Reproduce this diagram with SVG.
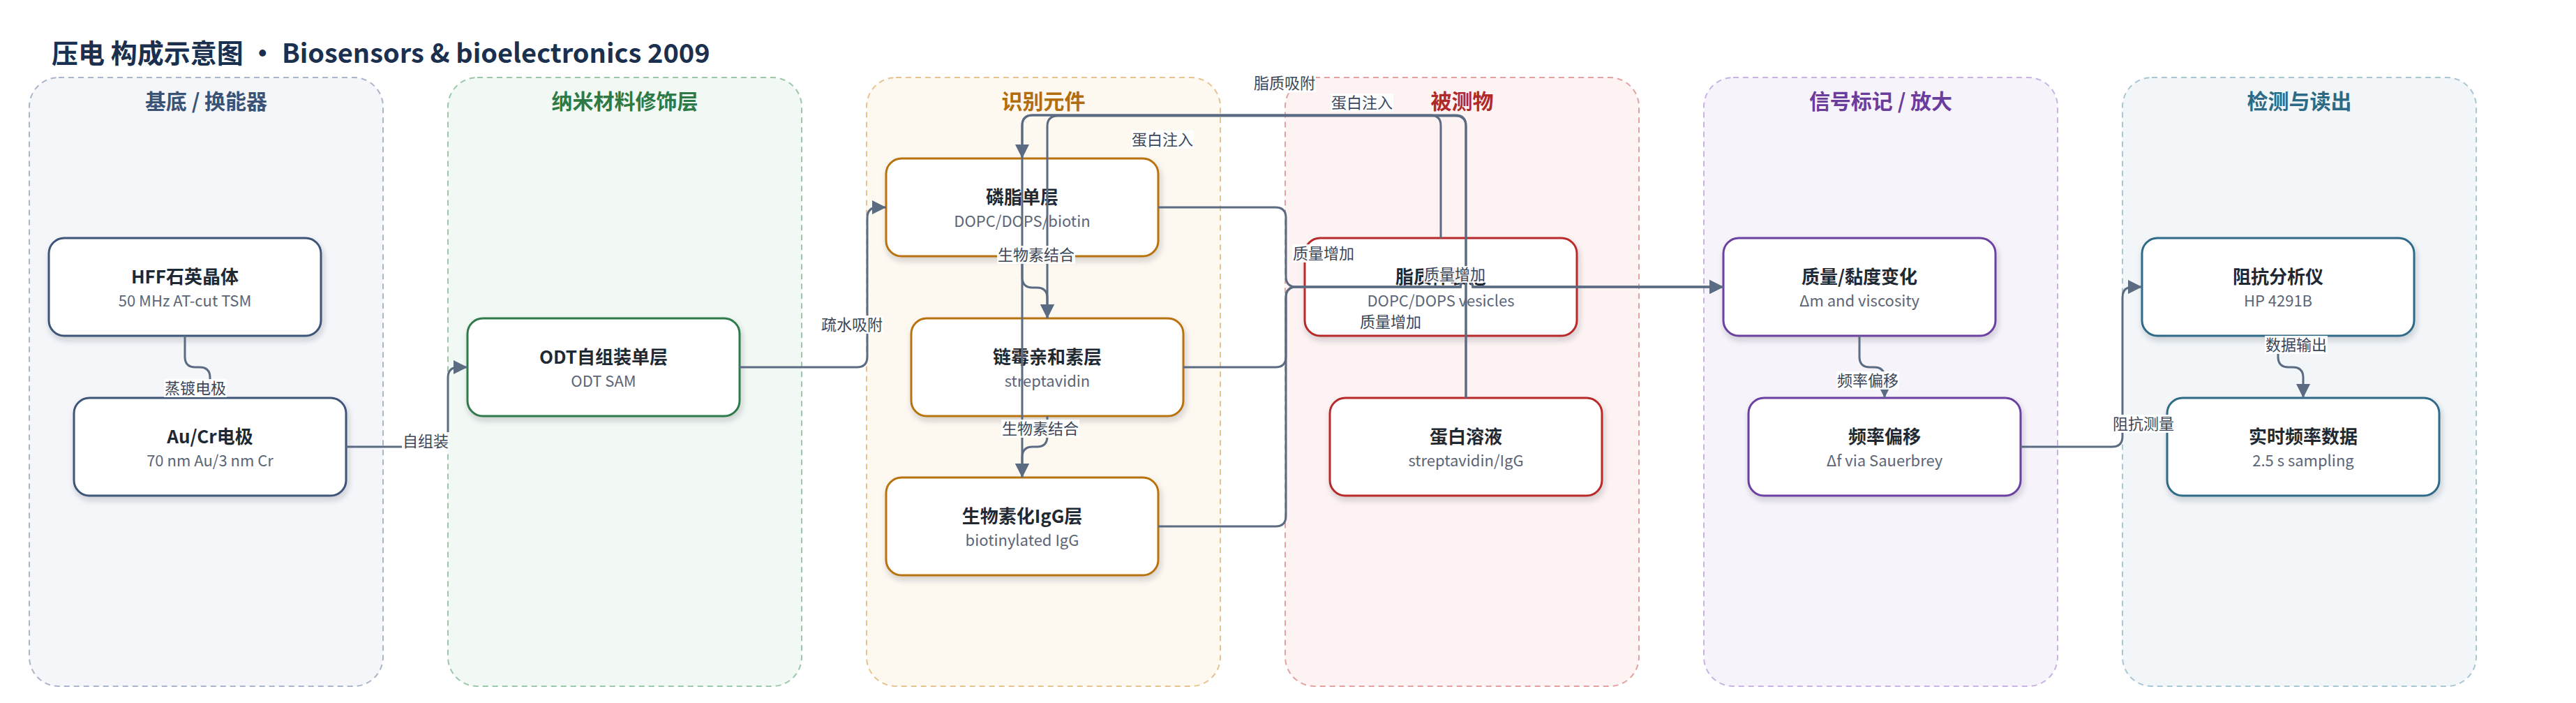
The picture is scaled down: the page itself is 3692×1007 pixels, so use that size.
<svg xmlns="http://www.w3.org/2000/svg" width="3692" height="1007" viewBox="0 0 3692 1007">
<defs>
<filter id="sh" x="-10%" y="-15%" width="125%" height="140%">
<feDropShadow dx="2" dy="5" stdDeviation="4" flood-color="#1f2a38" flood-opacity="0.2"/>
</filter>
<marker id="arr" viewBox="0 0 20 20" refX="20" refY="10" markerWidth="20" markerHeight="20" markerUnits="userSpaceOnUse" orient="auto">
<path d="M0,0 L20,10 L0,20 Z" fill="#5a6b82"/>
</marker>
</defs>
<style>
text{font-family:"Noto Sans CJK SC","Noto Sans",sans-serif;}
.title{font-size:38px;font-weight:700;fill:#1b2f4e;}
.lane{stroke-width:2;stroke-dasharray:8 6;}
.lt{font-size:30px;font-weight:700;text-anchor:middle;}
.node{fill:#fff;stroke-width:3;filter:url(#sh);}
.nt{font-size:26px;font-weight:700;fill:#1f2933;text-anchor:middle;}
.ns{font-size:22px;fill:#5b6577;text-anchor:middle;}
.edge{fill:none;stroke:#5a6b82;stroke-width:3;}
.arrow{marker-end:url(#arr);}
.lbg{fill:#fff;fill-opacity:0.92;}
.lbl{font-size:22px;fill:#3b4658;text-anchor:middle;}
</style>
<rect width="3692" height="1007" fill="#ffffff"/>
<text class="title" x="74" y="90">压电 构成示意图 · Biosensors &amp; bioelectronics 2009</text>

<g id="lanes">
<g id="lane-substrate"><rect class="lane" x="42" y="111" width="507" height="872" rx="42" fill="#f4f6fa" stroke="#a9b5c9"/><text class="lt" x="295.5" y="156" fill="#3a5276">基底 / 换能器</text></g>
<g id="lane-nano"><rect class="lane" x="642" y="111" width="507" height="872" rx="42" fill="#f2f8f4" stroke="#9cc8aa"/><text class="lt" x="895.5" y="156" fill="#2d7a46">纳米材料修饰层</text></g>
<g id="lane-recog"><rect class="lane" x="1242" y="111" width="507" height="872" rx="42" fill="#fdf8f0" stroke="#e7c48f"/><text class="lt" x="1495.5" y="156" fill="#b26d0c">识别元件</text></g>
<g id="lane-analyte"><rect class="lane" x="1842" y="111" width="507" height="872" rx="42" fill="#fdf3f3" stroke="#e3a2a2"/><text class="lt" x="2095.5" y="156" fill="#b02a2a">被测物</text></g>
<g id="lane-signal"><rect class="lane" x="2442" y="111" width="507" height="872" rx="42" fill="#f6f3fb" stroke="#c8b3e3"/><text class="lt" x="2695.5" y="156" fill="#6a3c9c">信号标记 / 放大</text></g>
<g id="lane-readout"><rect class="lane" x="3042" y="111" width="507" height="872" rx="42" fill="#f2f6f8" stroke="#a9c6d3"/><text class="lt" x="3295.5" y="156" fill="#2d6a86">检测与读出</text></g>
</g>

<g id="nodes">
<g id="n-hff"><rect class="node" x="70" y="341" width="390" height="140" rx="22" stroke="#3d5478"/><text class="nt" x="265" y="406">HFF石英晶体</text><text class="ns" x="265" y="439">50 MHz AT-cut TSM</text></g>
<g id="n-aucr"><rect class="node" x="106" y="570" width="390" height="140" rx="22" stroke="#3d5478"/><text class="nt" x="301" y="635">Au/Cr电极</text><text class="ns" x="301" y="668">70 nm Au/3 nm Cr</text></g>
<g id="n-odt"><rect class="node" x="670" y="456" width="390" height="140" rx="22" stroke="#2e7a4b"/><text class="nt" x="865" y="521">ODT自组装单层</text><text class="ns" x="865" y="554">ODT SAM</text></g>
<g id="n-lipid"><rect class="node" x="1270" y="227" width="390" height="140" rx="22" stroke="#b8730f"/><text class="nt" x="1465" y="292">磷脂单层</text><text class="ns" x="1465" y="325">DOPC/DOPS/biotin</text></g>
<g id="n-strep"><rect class="node" x="1306" y="456" width="390" height="140" rx="22" stroke="#b8730f"/><text class="nt" x="1501" y="521">链霉亲和素层</text><text class="ns" x="1501" y="554">streptavidin</text></g>
<g id="n-igg"><rect class="node" x="1270" y="684" width="390" height="140" rx="22" stroke="#b8730f"/><text class="nt" x="1465" y="749">生物素化IgG层</text><text class="ns" x="1465" y="782">biotinylated IgG</text></g>
<g id="n-vesicle"><rect class="node" x="1870" y="341" width="390" height="140" rx="22" stroke="#b82a2a"/><text class="nt" x="2065" y="406">脂质体囊泡</text><text class="ns" x="2065" y="439">DOPC/DOPS vesicles</text></g>
<g id="n-protein"><rect class="node" x="1906" y="570" width="390" height="140" rx="22" stroke="#b82a2a"/><text class="nt" x="2101" y="635">蛋白溶液</text><text class="ns" x="2101" y="668">streptavidin/IgG</text></g>
<g id="n-mass"><rect class="node" x="2470" y="341" width="390" height="140" rx="22" stroke="#6b3fa0"/><text class="nt" x="2665" y="406">质量/黏度变化</text><text class="ns" x="2665" y="439">Δm and viscosity</text></g>
<g id="n-freq"><rect class="node" x="2506" y="570" width="390" height="140" rx="22" stroke="#6b3fa0"/><text class="nt" x="2701" y="635">频率偏移</text><text class="ns" x="2701" y="668">Δf via Sauerbrey</text></g>
<g id="n-imp"><rect class="node" x="3070" y="341" width="390" height="140" rx="22" stroke="#2e6b87"/><text class="nt" x="3265" y="406">阻抗分析仪</text><text class="ns" x="3265" y="439">HP 4291B</text></g>
<g id="n-data"><rect class="node" x="3106" y="570" width="390" height="140" rx="22" stroke="#2e6b87"/><text class="nt" x="3301" y="635">实时频率数据</text><text class="ns" x="3301" y="668">2.5 s sampling</text></g>
</g>

<g id="connectors">
<path class="edge arrow" d="M265,481 V511 Q265,526 280,526 H286 Q301,526 301,541 V570"/>
<path class="edge arrow" d="M496,640 H627 Q642,640 642,625 V541 Q642,526 657,526 H670"/>
<path class="edge arrow" d="M1060,526 H1228 Q1243,526 1243,511 V312 Q1243,297 1258,297 H1270"/>
<path class="edge arrow" d="M1465,367 V397 Q1465,412 1480,412 H1486 Q1501,412 1501,427 V456"/>
<path class="edge arrow" d="M1501,596 V625 Q1501,640 1486,640 H1480 Q1465,640 1465,655 V684"/>
<path class="edge arrow" d="M2065,341 V180 Q2065,165 2050,165 H1480 Q1465,165 1465,180 V227"/>
<path class="edge arrow" d="M2101,570 V181 Q2101,166 2086,166 H1516 Q1501,166 1501,181 V456"/>
<path class="edge arrow" d="M2101,570 V180 Q2101,165 2086,165 H1480 Q1465,165 1465,180 V684"/>
<path class="edge arrow" d="M1660,297 H1828 Q1843,297 1843,312 V396 Q1843,411 1858,411 H2093 A9,9 0 0 1 2111,411 H2470"/>
<path class="edge arrow" d="M1696,526 H1828 Q1843,526 1843,511 V426 Q1843,411 1858,411 H2093 A9,9 0 0 1 2111,411 H2470"/>
<path class="edge arrow" d="M1660,754 H1828 Q1843,754 1843,739 V426 Q1843,411 1858,411 H2093 A9,9 0 0 1 2111,411 H2470"/>
<path class="edge arrow" d="M2665,481 V511 Q2665,526 2680,526 H2686 Q2701,526 2701,541 V570"/>
<path class="edge arrow" d="M2896,640 H3027 Q3042,640 3042,625 V426 Q3042,411 3057,411 H3070"/>
<path class="edge arrow" d="M3265,481 V511 Q3265,526 3280,526 H3286 Q3301,526 3301,541 V570"/>
</g>

<g id="edge-labels">
<rect class="lbg" x="235" y="543" width="90" height="26"/><text class="lbl" x="280" y="564">蒸镀电极</text>
<rect class="lbg" x="576" y="619" width="68" height="26"/><text class="lbl" x="610" y="640">自组装</text>
<rect class="lbg" x="1176" y="452" width="90" height="26"/><text class="lbl" x="1221" y="473">疏水吸附</text>
<rect class="lbg" x="1429" y="352" width="112" height="26"/><text class="lbl" x="1485" y="373">生物素结合</text>
<rect class="lbg" x="1435" y="601" width="112" height="26"/><text class="lbl" x="1491" y="622">生物素结合</text>
<rect class="lbg" x="1796" y="106" width="90" height="26"/><text class="lbl" x="1841" y="127">脂质吸附</text>
<rect class="lbg" x="1621" y="187" width="90" height="26"/><text class="lbl" x="1666" y="208">蛋白注入</text>
<rect class="lbg" x="1907" y="134" width="90" height="26"/><text class="lbl" x="1952" y="155">蛋白注入</text>
<rect class="lbg" x="1852" y="350" width="90" height="26"/><text class="lbl" x="1897" y="371">质量增加</text>
<rect class="lbg" x="2040" y="381" width="90" height="24"/><text class="lbl" x="2085" y="401">质量增加</text>
<rect class="lbg" x="1948" y="448" width="90" height="26"/><text class="lbl" x="1993" y="469">质量增加</text>
<rect class="lbg" x="2632" y="532" width="90" height="26"/><text class="lbl" x="2677" y="553">频率偏移</text>
<rect class="lbg" x="3027" y="594" width="90" height="26"/><text class="lbl" x="3072" y="615">阻抗测量</text>
<rect class="lbg" x="3246" y="481" width="90" height="26"/><text class="lbl" x="3291" y="502">数据输出</text>
</g>
</svg>
